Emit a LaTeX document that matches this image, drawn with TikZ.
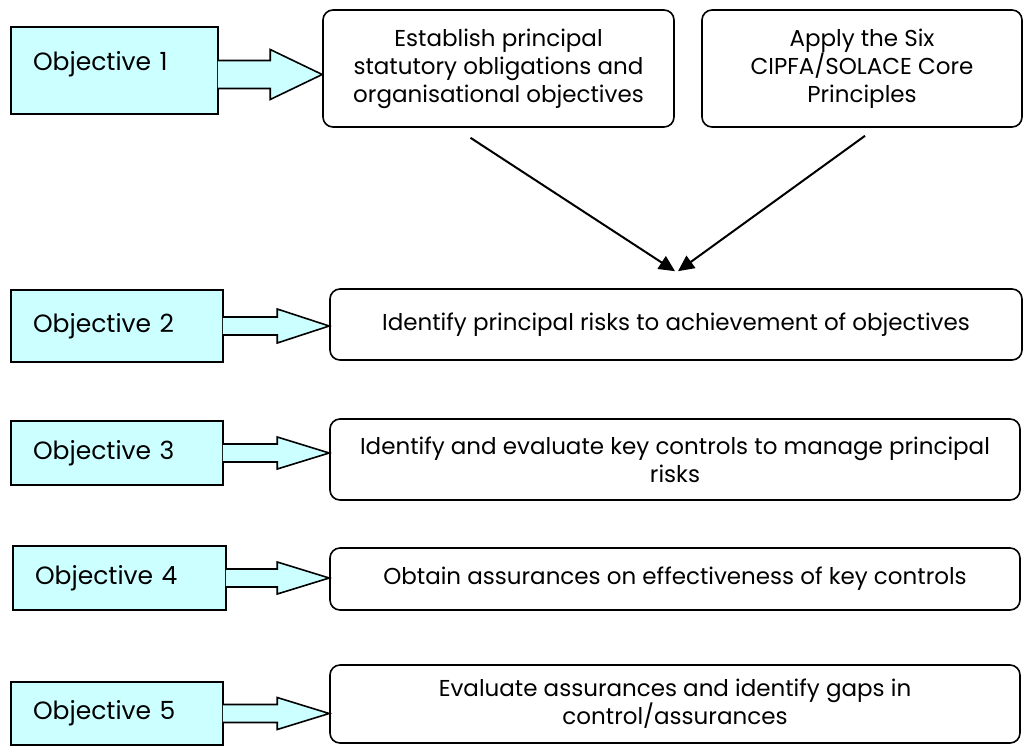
\documentclass[tikz,border=0pt]{standalone}
\usepackage{fontspec}
\setmainfont{Poppins}
\usetikzlibrary{positioning, arrows.meta, calc}
\definecolor{objcyan}{HTML}{CCFFFF}

\begin{document}
\begin{tikzpicture}[
            x=1pt, y=-1pt,
            >={Triangle[length=16pt, width=15pt]},
            font=\fontsize{23}{28}\selectfont,
            objbox/.style={draw, line width=1.6pt, fill=objcyan, inner xsep=22pt, align=left, minimum height=#1, font=\fontsize{25}{28}\selectfont},
            taskbox/.style={draw, line width=1.6pt, rounded corners=10pt, fill=white, align=center},
            blockarrow/.style={draw, line width=1.6pt, fill=objcyan},
            link/.style={->, line width=2pt},
        ]
        \useasboundingbox (0,0) rectangle (1027,745);

        % Draw the objective boxes
        \node[objbox=87pt, text width=163pt, text height=17pt, text depth=17pt] (Obj-1) at (114.5,70.5) {Objective 1};
        \node[objbox=72pt, text width=168pt] (Obj-2) at (117,326) {Objective 2};
        \node[objbox=64pt, text width=168pt] (Obj-3) at (117,453) {Objective 3};
        \node[objbox=64pt, text width=169pt] (Obj-4) at (119.5,578) {Objective 4};
        \node[objbox=63pt, text width=168pt] (Obj-5) at (117,713.5) {Objective 5};

        % Draw the task boxes
        \node[taskbox, minimum width=351pt, minimum height=117pt] (Task-1a) at (498.5,68.5) {Establish principal\\statutory obligations and\\organisational objectives};
        \node[taskbox, minimum width=320pt, minimum height=117pt] (Task-1b) at (862,68.5) {Apply the Six\\CIPFA/SOLACE Core\\Principles};
        \node[taskbox, minimum width=692pt, minimum height=71pt] (Task-2) at (676,324.5) {Identify principal risks to achievement of objectives};
        \node[taskbox, minimum width=690pt, minimum height=81pt] (Task-3) at (675,459.5) {Identify and evaluate key controls to manage principal\\risks};
        \node[taskbox, minimum width=690pt, minimum height=62pt] (Task-4) at (675,579) {Obtain assurances on effectiveness of key controls};
        \node[taskbox, minimum width=690pt, minimum height=78pt] (Task-5) at (675,704) {Evaluate assurances and identify gaps in\\control/assurances};

        % Block arrows from each objective to its task
        \foreach \src/\dst/\dy/\s/\h in {Obj-1/Task-1a/4/14/25, Obj-2/Task-2/0/9/17, Obj-3/Task-3/0/9/16, Obj-4/Task-4/0/9/16, Obj-5/Task-5/0/9/16}
        {
            \coordinate (c) at ($(\src.east)+(-1,\dy)$);
            \coordinate (t) at (c -| \dst.west);
            \draw[blockarrow] ($(c)+(0,-\s)$) -- ($(t)+(-52,-\s)$) -- ($(t)+(-52,-\h)$) -- (t)
                -- ($(t)+(-52,\h)$) -- ($(t)+(-52,\s)$) -- ($(c)+(0,\s)$);
        }

        % Connect the two top tasks with the second task
        \draw[link] ($(Task-1a.south)+(-28,10)$) -- ($(Task-2.north)+(-1,-17)$);
        \draw[link] ($(Task-1b.south)+(3,8)$) -- ($(Task-2.north)+(2,-17)$);
    \end{tikzpicture}
\end{document}
